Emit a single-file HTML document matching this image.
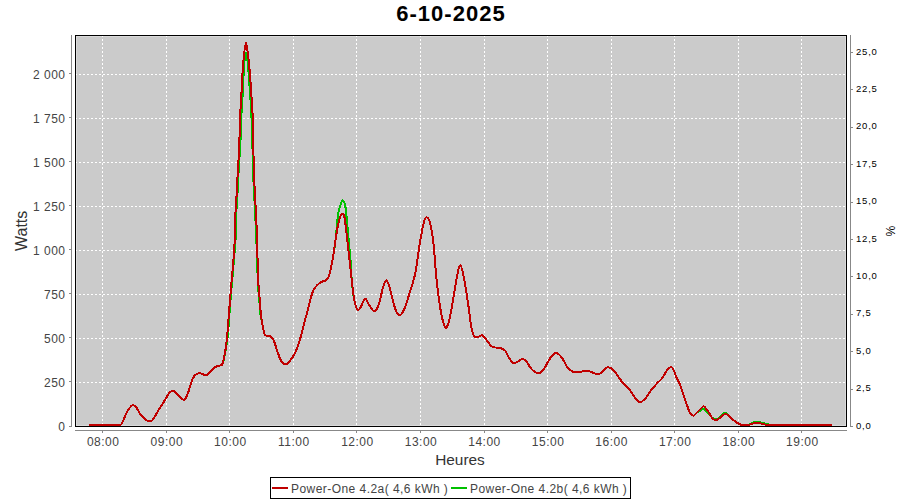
<!DOCTYPE html>
<html><head><meta charset="utf-8">
<style>
html,body{margin:0;padding:0;background:#fff;}
body{width:900px;height:500px;position:relative;overflow:hidden;font-family:"Liberation Sans",sans-serif;}
svg{position:absolute;left:0;top:0;}
.t{position:absolute;white-space:nowrap;}
#title{position:absolute;left:0;width:900px;top:1px;text-align:center;font-weight:bold;font-size:22px;line-height:25px;color:#000;letter-spacing:1.05px;text-indent:2px;}
.yl{position:absolute;right:834.5px;font-size:12px;line-height:15px;color:#444;white-space:nowrap;letter-spacing:0.5px;}
.xl{position:absolute;top:435px;width:60px;text-align:center;font-size:12px;line-height:15px;color:#444;letter-spacing:0.5px;}
.pl{position:absolute;left:856px;font-size:9.5px;line-height:13px;color:#000;white-space:nowrap;letter-spacing:0.8px;}
#xt{position:absolute;left:0;width:920px;top:451px;text-align:center;font-size:15.4px;line-height:18px;color:#333;}
#wt{position:absolute;left:1.5px;top:222px;width:40px;text-align:center;font-size:16px;line-height:18px;color:#333;transform:rotate(-90deg);}
#pt{position:absolute;left:870px;top:224px;width:40px;text-align:center;font-size:12px;line-height:14px;color:#000;transform:rotate(90deg);}
#legend{position:absolute;left:270px;top:477px;width:359px;height:20px;border:1px solid #000;}
.lg{position:absolute;top:2px;font-size:12px;line-height:19px;color:#444;white-space:nowrap;letter-spacing:0.45px;}
.ll{position:absolute;top:9px;width:16px;height:2px;}
</style></head><body>
<svg width="900" height="500" viewBox="0 0 900 500">
<rect x="75" y="35" width="772" height="392" fill="#cbcbcb"/>
<rect x="76.5" y="36.5" width="769" height="389" fill="none" stroke="#dadada" stroke-width="1"/>
<g stroke="#fff" stroke-width="1" stroke-dasharray="2 2" shape-rendering="crispEdges">
<line x1="102.5" y1="35" x2="102.5" y2="426" />
<line x1="166.5" y1="35" x2="166.5" y2="426" />
<line x1="229.5" y1="35" x2="229.5" y2="426" />
<line x1="293.5" y1="35" x2="293.5" y2="426" />
<line x1="356.5" y1="35" x2="356.5" y2="426" />
<line x1="420.5" y1="35" x2="420.5" y2="426" />
<line x1="484.5" y1="35" x2="484.5" y2="426" />
<line x1="547.5" y1="35" x2="547.5" y2="426" />
<line x1="611.5" y1="35" x2="611.5" y2="426" />
<line x1="674.5" y1="35" x2="674.5" y2="426" />
<line x1="738.5" y1="35" x2="738.5" y2="426" />
<line x1="801.5" y1="35" x2="801.5" y2="426" />
<line x1="75" y1="382.5" x2="846" y2="382.5" />
<line x1="75" y1="338.5" x2="846" y2="338.5" />
<line x1="75" y1="294.5" x2="846" y2="294.5" />
<line x1="75" y1="250.5" x2="846" y2="250.5" />
<line x1="75" y1="206.5" x2="846" y2="206.5" />
<line x1="75" y1="162.5" x2="846" y2="162.5" />
<line x1="75" y1="118.5" x2="846" y2="118.5" />
<line x1="75" y1="74.5" x2="846" y2="74.5" />
</g>
<path d="M89.00 425.20 C91.27 425.15 99.00 425.00 102.60 424.90 C106.20 424.80 107.80 424.55 110.60 424.60 C113.40 424.65 117.53 425.37 119.40 425.20 C121.27 425.03 120.87 425.07 121.80 423.60 C122.73 422.13 123.93 418.67 125.00 416.40 C126.07 414.13 126.95 411.87 128.20 410.00 C129.45 408.13 131.17 405.65 132.50 405.20 C133.83 404.75 134.92 405.83 136.20 407.30 C137.48 408.77 138.47 411.82 140.20 414.00 C141.93 416.18 144.60 419.33 146.60 420.40 C148.60 421.47 150.20 422.13 152.20 420.40 C154.20 418.67 156.60 413.20 158.60 410.00 C160.60 406.80 162.32 404.15 164.20 401.20 C166.08 398.25 168.22 393.97 169.90 392.30 C171.58 390.63 172.28 390.10 174.30 391.20 C176.32 392.30 180.17 397.62 182.00 398.90 C183.83 400.18 184.20 400.18 185.30 398.90 C186.40 397.62 187.32 394.68 188.60 391.20 C189.88 387.72 191.35 381.00 193.00 378.00 C194.65 375.00 196.67 373.75 198.50 373.20 C200.33 372.65 202.53 374.45 204.00 374.70 C205.47 374.95 205.83 375.62 207.30 374.70 C208.77 373.78 211.15 370.67 212.80 369.20 C214.45 367.73 215.72 366.60 217.20 365.90 C218.68 365.20 220.63 365.98 221.70 365.00 C222.77 364.02 222.65 364.33 223.60 360.00 C224.55 355.67 226.42 346.83 227.40 339.00 C228.38 331.17 228.80 321.67 229.50 313.00 C230.20 304.33 230.87 295.67 231.60 287.00 C232.33 278.33 233.20 269.67 233.90 261.00 C234.60 252.33 235.42 242.67 235.80 235.00 C236.18 227.33 235.93 221.67 236.20 215.00 C236.47 208.33 237.03 201.67 237.40 195.00 C237.77 188.33 238.03 181.67 238.40 175.00 C238.77 168.33 239.20 161.67 239.60 155.00 C240.00 148.33 240.50 141.67 240.80 135.00 C241.10 128.33 241.10 121.67 241.40 115.00 C241.70 108.33 242.13 103.50 242.60 95.00 C243.07 86.50 243.63 71.07 244.20 64.00 C244.77 56.93 245.40 52.60 246.00 52.60 C246.60 52.60 247.10 56.93 247.80 64.00 C248.50 71.07 249.60 86.50 250.20 95.00 C250.80 103.50 251.10 108.33 251.40 115.00 C251.70 121.67 251.78 128.33 252.00 135.00 C252.22 141.67 252.50 148.33 252.70 155.00 C252.90 161.67 252.95 168.33 253.20 175.00 C253.45 181.67 253.87 188.33 254.20 195.00 C254.53 201.67 254.87 208.33 255.20 215.00 C255.53 221.67 255.88 227.33 256.20 235.00 C256.52 242.67 256.78 252.33 257.10 261.00 C257.42 269.67 257.73 280.50 258.10 287.00 C258.47 293.50 258.92 295.50 259.30 300.00 C259.68 304.50 259.85 309.80 260.40 314.00 C260.95 318.20 261.88 321.82 262.60 325.20 C263.32 328.58 263.88 332.48 264.70 334.30 C265.52 336.12 266.45 335.70 267.50 336.10 C268.55 336.50 269.95 335.95 271.00 336.70 C272.05 337.45 272.87 338.55 273.80 340.60 C274.73 342.65 275.55 345.97 276.60 349.00 C277.65 352.03 278.93 356.35 280.10 358.80 C281.27 361.25 282.43 362.88 283.60 363.70 C284.77 364.52 285.70 364.63 287.10 363.70 C288.50 362.77 290.48 360.32 292.00 358.10 C293.52 355.88 294.80 353.78 296.20 350.40 C297.60 347.02 299.03 342.50 300.40 337.80 C301.77 333.10 303.20 326.67 304.40 322.20 C305.60 317.73 306.67 314.47 307.60 311.00 C308.53 307.53 309.20 304.47 310.00 301.40 C310.80 298.33 311.47 295.00 312.40 292.60 C313.33 290.20 314.40 288.60 315.60 287.00 C316.80 285.40 318.40 283.93 319.60 283.00 C320.80 282.07 321.87 281.80 322.80 281.40 C323.73 281.00 324.27 281.27 325.20 280.60 C326.13 279.93 327.52 279.17 328.40 277.40 C329.28 275.63 329.73 273.32 330.50 270.00 C331.27 266.68 332.17 262.50 333.00 257.50 C333.83 252.50 334.67 247.08 335.50 240.00 C336.33 232.92 337.17 220.83 338.00 215.00 C338.83 209.17 339.67 207.42 340.50 205.00 C341.33 202.58 342.17 200.08 343.00 200.50 C343.83 200.92 344.67 202.17 345.50 207.50 C346.33 212.83 347.17 223.75 348.00 232.50 C348.83 241.25 349.88 252.08 350.50 260.00 C351.12 267.92 351.12 273.33 351.75 280.00 C352.38 286.67 353.29 295.08 354.25 300.00 C355.21 304.92 356.46 308.25 357.50 309.50 C358.54 310.75 359.25 309.29 360.50 307.50 C361.75 305.71 363.54 299.17 365.00 298.75 C366.46 298.33 367.67 302.88 369.25 305.00 C370.83 307.12 372.88 311.73 374.50 311.50 C376.12 311.27 377.55 307.72 379.00 303.60 C380.45 299.48 381.93 290.67 383.20 286.80 C384.47 282.93 385.43 279.93 386.60 280.40 C387.77 280.87 388.90 285.27 390.20 289.60 C391.50 293.93 392.90 302.10 394.40 306.40 C395.90 310.70 397.57 314.93 399.20 315.40 C400.83 315.87 402.43 313.03 404.20 309.20 C405.97 305.37 407.93 298.47 409.80 292.40 C411.67 286.33 413.77 280.73 415.40 272.80 C417.03 264.87 418.20 253.20 419.60 244.80 C421.00 236.40 422.63 226.97 423.80 222.40 C424.97 217.83 425.57 217.40 426.60 217.40 C427.63 217.40 428.83 217.83 430.00 222.40 C431.17 226.97 432.53 235.47 433.60 244.80 C434.67 254.13 435.25 267.63 436.40 278.40 C437.55 289.17 439.08 301.30 440.50 309.40 C441.92 317.50 443.55 324.80 444.90 327.00 C446.25 329.20 447.32 326.63 448.60 322.60 C449.88 318.57 451.20 310.50 452.60 302.80 C454.00 295.10 455.72 282.70 457.00 276.40 C458.28 270.10 459.20 265.00 460.30 265.00 C461.40 265.00 462.32 270.10 463.60 276.40 C464.88 282.70 466.72 294.37 468.00 302.80 C469.28 311.23 470.20 321.32 471.30 327.00 C472.40 332.68 473.32 335.32 474.60 336.90 C475.88 338.48 477.72 336.75 479.00 336.50 C480.28 336.25 481.02 334.78 482.30 335.40 C483.58 336.02 485.05 338.30 486.70 340.20 C488.35 342.10 490.00 345.52 492.20 346.80 C494.40 348.08 497.77 347.30 499.90 347.90 C502.03 348.50 503.55 348.88 505.00 350.40 C506.45 351.92 507.40 355.00 508.60 357.00 C509.80 359.00 511.00 361.47 512.20 362.40 C513.40 363.33 514.60 362.90 515.80 362.60 C517.00 362.30 518.20 361.23 519.40 360.60 C520.60 359.97 521.80 358.60 523.00 358.80 C524.20 359.00 525.20 360.10 526.60 361.80 C528.00 363.50 529.80 367.20 531.40 369.00 C533.00 370.80 534.70 372.00 536.20 372.60 C537.70 373.20 539.00 373.40 540.40 372.60 C541.80 371.80 543.10 370.00 544.60 367.80 C546.10 365.60 548.00 361.60 549.40 359.40 C550.80 357.20 551.90 355.67 553.00 354.60 C554.10 353.53 554.90 352.93 556.00 353.00 C557.10 353.07 558.50 354.03 559.60 355.00 C560.70 355.97 561.30 356.77 562.60 358.80 C563.90 360.83 565.90 365.20 567.40 367.20 C568.90 369.20 570.40 369.97 571.60 370.80 C572.80 371.63 573.10 372.00 574.60 372.20 C576.10 372.40 579.00 372.23 580.60 372.00 C582.20 371.77 583.00 371.03 584.20 370.80 C585.40 370.57 586.60 370.40 587.80 370.60 C589.00 370.80 590.00 371.47 591.40 372.00 C592.80 372.53 594.80 373.50 596.20 373.80 C597.60 374.10 598.50 374.48 599.80 373.80 C601.10 373.12 602.68 370.78 604.00 369.70 C605.32 368.62 606.50 367.52 607.70 367.30 C608.90 367.08 609.95 367.55 611.20 368.40 C612.45 369.25 613.87 370.80 615.20 372.40 C616.53 374.00 617.73 376.00 619.20 378.00 C620.67 380.00 622.40 382.67 624.00 384.40 C625.60 386.13 627.20 386.53 628.80 388.40 C630.40 390.27 632.00 393.38 633.60 395.60 C635.20 397.82 637.07 400.68 638.40 401.70 C639.73 402.72 640.27 402.45 641.60 401.70 C642.93 400.95 644.80 399.15 646.40 397.20 C648.00 395.25 649.33 392.40 651.20 390.00 C653.07 387.60 655.73 384.80 657.60 382.80 C659.47 380.80 660.80 380.13 662.40 378.00 C664.00 375.87 665.73 371.82 667.20 370.00 C668.67 368.18 670.13 367.10 671.20 367.10 C672.27 367.10 672.67 368.18 673.60 370.00 C674.53 371.82 675.73 375.60 676.80 378.00 C677.87 380.40 678.92 381.67 680.00 384.40 C681.08 387.13 682.18 391.07 683.30 394.40 C684.42 397.73 685.58 401.33 686.70 404.40 C687.82 407.47 688.90 410.90 690.00 412.80 C691.10 414.70 692.18 415.80 693.30 415.80 C694.42 415.80 695.48 413.68 696.70 412.80 C697.92 411.92 699.40 411.12 700.60 410.50 C701.80 409.88 702.70 408.77 703.90 409.10 C705.10 409.43 706.23 410.92 707.80 412.50 C709.37 414.08 711.63 417.58 713.30 418.60 C714.97 419.62 716.32 419.23 717.80 418.60 C719.28 417.97 720.90 415.77 722.20 414.80 C723.50 413.83 724.30 412.52 725.60 412.80 C726.90 413.08 729.27 415.77 730.00 416.50 C730.73 417.23 729.07 416.33 730.00 417.20 C730.93 418.07 733.75 420.45 735.60 421.70 C737.45 422.95 738.88 424.20 741.10 424.70 C743.32 425.20 747.05 425.02 748.90 424.70 C750.75 424.38 750.72 423.30 752.20 422.80 C753.68 422.30 755.95 421.63 757.80 421.70 C759.65 421.77 761.45 422.73 763.30 423.20 C765.15 423.67 766.12 424.15 768.90 424.50 C771.68 424.85 769.48 425.17 780.00 425.30 C790.52 425.43 823.33 425.30 832.00 425.30" fill="none" stroke="#00c000" stroke-width="2" stroke-linejoin="round" shape-rendering="crispEdges"/>
<path d="M89.00 425.20 C91.27 425.15 99.00 425.00 102.60 424.90 C106.20 424.80 107.80 424.55 110.60 424.60 C113.40 424.65 117.53 425.37 119.40 425.20 C121.27 425.03 120.87 425.07 121.80 423.60 C122.73 422.13 123.93 418.67 125.00 416.40 C126.07 414.13 126.95 411.87 128.20 410.00 C129.45 408.13 131.17 405.65 132.50 405.20 C133.83 404.75 134.92 405.83 136.20 407.30 C137.48 408.77 138.47 411.82 140.20 414.00 C141.93 416.18 144.60 419.33 146.60 420.40 C148.60 421.47 150.20 422.13 152.20 420.40 C154.20 418.67 156.60 413.20 158.60 410.00 C160.60 406.80 162.32 404.15 164.20 401.20 C166.08 398.25 168.22 393.97 169.90 392.30 C171.58 390.63 172.28 390.10 174.30 391.20 C176.32 392.30 180.17 397.62 182.00 398.90 C183.83 400.18 184.20 400.18 185.30 398.90 C186.40 397.62 187.32 394.68 188.60 391.20 C189.88 387.72 191.35 381.00 193.00 378.00 C194.65 375.00 196.67 373.75 198.50 373.20 C200.33 372.65 202.53 374.45 204.00 374.70 C205.47 374.95 205.83 375.62 207.30 374.70 C208.77 373.78 211.15 370.67 212.80 369.20 C214.45 367.73 215.72 366.60 217.20 365.90 C218.68 365.20 220.63 365.98 221.70 365.00 C222.77 364.02 223.03 362.17 223.60 360.00 C224.17 357.83 224.55 355.50 225.10 352.00 C225.65 348.50 226.25 345.50 226.90 339.00 C227.55 332.50 228.30 321.67 229.00 313.00 C229.70 304.33 230.37 295.67 231.10 287.00 C231.83 278.33 232.75 269.67 233.40 261.00 C234.05 252.33 234.67 242.67 235.00 235.00 C235.33 227.33 235.13 221.67 235.40 215.00 C235.67 208.33 236.23 201.67 236.60 195.00 C236.97 188.33 237.23 181.67 237.60 175.00 C237.97 168.33 238.47 161.67 238.80 155.00 C239.13 148.33 239.37 141.67 239.60 135.00 C239.83 128.33 239.90 121.67 240.20 115.00 C240.50 108.33 241.03 101.67 241.40 95.00 C241.77 88.33 241.97 81.67 242.40 75.00 C242.83 68.33 243.40 60.40 244.00 55.00 C244.60 49.60 245.33 42.60 246.00 42.60 C246.67 42.60 247.33 49.60 248.00 55.00 C248.67 60.40 249.43 68.33 250.00 75.00 C250.57 81.67 250.97 88.33 251.40 95.00 C251.83 101.67 252.30 108.33 252.60 115.00 C252.90 121.67 253.05 128.33 253.20 135.00 C253.35 141.67 253.37 148.33 253.50 155.00 C253.63 161.67 253.75 168.33 254.00 175.00 C254.25 181.67 254.67 188.33 255.00 195.00 C255.33 201.67 255.67 208.33 256.00 215.00 C256.33 221.67 256.73 227.33 257.00 235.00 C257.27 242.67 257.33 252.33 257.60 261.00 C257.87 269.67 258.23 280.50 258.60 287.00 C258.97 293.50 259.42 295.50 259.80 300.00 C260.18 304.50 260.43 309.80 260.90 314.00 C261.37 318.20 261.97 321.82 262.60 325.20 C263.23 328.58 263.88 332.48 264.70 334.30 C265.52 336.12 266.45 335.70 267.50 336.10 C268.55 336.50 269.95 335.95 271.00 336.70 C272.05 337.45 272.87 338.55 273.80 340.60 C274.73 342.65 275.55 345.97 276.60 349.00 C277.65 352.03 278.93 356.35 280.10 358.80 C281.27 361.25 282.43 362.88 283.60 363.70 C284.77 364.52 285.70 364.63 287.10 363.70 C288.50 362.77 290.48 360.32 292.00 358.10 C293.52 355.88 294.80 353.78 296.20 350.40 C297.60 347.02 299.03 342.50 300.40 337.80 C301.77 333.10 303.20 326.67 304.40 322.20 C305.60 317.73 306.67 314.47 307.60 311.00 C308.53 307.53 309.20 304.47 310.00 301.40 C310.80 298.33 311.47 295.00 312.40 292.60 C313.33 290.20 314.40 288.60 315.60 287.00 C316.80 285.40 318.40 283.93 319.60 283.00 C320.80 282.07 321.87 281.80 322.80 281.40 C323.73 281.00 324.27 281.27 325.20 280.60 C326.13 279.93 327.52 279.17 328.40 277.40 C329.28 275.63 329.73 273.32 330.50 270.00 C331.27 266.68 332.17 262.50 333.00 257.50 C333.83 252.50 334.67 245.42 335.50 240.00 C336.33 234.58 337.17 228.96 338.00 225.00 C338.83 221.04 339.75 218.12 340.50 216.25 C341.25 214.38 341.83 213.54 342.50 213.75 C343.17 213.96 343.79 213.96 344.50 217.50 C345.21 221.04 345.96 228.33 346.75 235.00 C347.54 241.67 348.42 250.00 349.25 257.50 C350.08 265.00 350.92 272.92 351.75 280.00 C352.58 287.08 353.29 295.08 354.25 300.00 C355.21 304.92 356.46 308.25 357.50 309.50 C358.54 310.75 359.25 309.29 360.50 307.50 C361.75 305.71 363.54 299.17 365.00 298.75 C366.46 298.33 367.67 302.88 369.25 305.00 C370.83 307.12 372.88 311.73 374.50 311.50 C376.12 311.27 377.55 307.72 379.00 303.60 C380.45 299.48 381.93 290.67 383.20 286.80 C384.47 282.93 385.43 279.93 386.60 280.40 C387.77 280.87 388.90 285.27 390.20 289.60 C391.50 293.93 392.90 302.10 394.40 306.40 C395.90 310.70 397.57 314.93 399.20 315.40 C400.83 315.87 402.43 313.03 404.20 309.20 C405.97 305.37 407.93 298.47 409.80 292.40 C411.67 286.33 413.77 280.73 415.40 272.80 C417.03 264.87 418.20 253.20 419.60 244.80 C421.00 236.40 422.63 226.97 423.80 222.40 C424.97 217.83 425.57 217.40 426.60 217.40 C427.63 217.40 428.83 217.83 430.00 222.40 C431.17 226.97 432.53 235.47 433.60 244.80 C434.67 254.13 435.25 267.63 436.40 278.40 C437.55 289.17 439.08 301.30 440.50 309.40 C441.92 317.50 443.55 324.80 444.90 327.00 C446.25 329.20 447.32 326.63 448.60 322.60 C449.88 318.57 451.20 310.50 452.60 302.80 C454.00 295.10 455.72 282.70 457.00 276.40 C458.28 270.10 459.20 265.00 460.30 265.00 C461.40 265.00 462.32 270.10 463.60 276.40 C464.88 282.70 466.72 294.37 468.00 302.80 C469.28 311.23 470.20 321.32 471.30 327.00 C472.40 332.68 473.32 335.32 474.60 336.90 C475.88 338.48 477.72 336.75 479.00 336.50 C480.28 336.25 481.02 334.78 482.30 335.40 C483.58 336.02 485.05 338.30 486.70 340.20 C488.35 342.10 490.00 345.52 492.20 346.80 C494.40 348.08 497.77 347.30 499.90 347.90 C502.03 348.50 503.55 348.88 505.00 350.40 C506.45 351.92 507.40 355.00 508.60 357.00 C509.80 359.00 511.00 361.47 512.20 362.40 C513.40 363.33 514.60 362.90 515.80 362.60 C517.00 362.30 518.20 361.23 519.40 360.60 C520.60 359.97 521.80 358.60 523.00 358.80 C524.20 359.00 525.20 360.10 526.60 361.80 C528.00 363.50 529.80 367.20 531.40 369.00 C533.00 370.80 534.70 372.00 536.20 372.60 C537.70 373.20 539.00 373.40 540.40 372.60 C541.80 371.80 543.10 370.00 544.60 367.80 C546.10 365.60 548.00 361.60 549.40 359.40 C550.80 357.20 551.90 355.67 553.00 354.60 C554.10 353.53 554.90 352.93 556.00 353.00 C557.10 353.07 558.50 354.03 559.60 355.00 C560.70 355.97 561.30 356.77 562.60 358.80 C563.90 360.83 565.90 365.20 567.40 367.20 C568.90 369.20 570.40 369.97 571.60 370.80 C572.80 371.63 573.10 372.00 574.60 372.20 C576.10 372.40 579.00 372.23 580.60 372.00 C582.20 371.77 583.00 371.03 584.20 370.80 C585.40 370.57 586.60 370.40 587.80 370.60 C589.00 370.80 590.00 371.47 591.40 372.00 C592.80 372.53 594.80 373.50 596.20 373.80 C597.60 374.10 598.50 374.48 599.80 373.80 C601.10 373.12 602.68 370.78 604.00 369.70 C605.32 368.62 606.50 367.52 607.70 367.30 C608.90 367.08 609.95 367.55 611.20 368.40 C612.45 369.25 613.87 370.80 615.20 372.40 C616.53 374.00 617.73 376.00 619.20 378.00 C620.67 380.00 622.40 382.67 624.00 384.40 C625.60 386.13 627.20 386.53 628.80 388.40 C630.40 390.27 632.00 393.38 633.60 395.60 C635.20 397.82 637.07 400.68 638.40 401.70 C639.73 402.72 640.27 402.45 641.60 401.70 C642.93 400.95 644.80 399.15 646.40 397.20 C648.00 395.25 649.33 392.40 651.20 390.00 C653.07 387.60 655.73 384.80 657.60 382.80 C659.47 380.80 660.80 380.13 662.40 378.00 C664.00 375.87 665.73 371.82 667.20 370.00 C668.67 368.18 670.13 367.10 671.20 367.10 C672.27 367.10 672.67 368.18 673.60 370.00 C674.53 371.82 675.73 375.60 676.80 378.00 C677.87 380.40 678.92 381.67 680.00 384.40 C681.08 387.13 682.18 391.07 683.30 394.40 C684.42 397.73 685.58 401.33 686.70 404.40 C687.82 407.47 688.90 410.90 690.00 412.80 C691.10 414.70 692.18 415.80 693.30 415.80 C694.42 415.80 695.48 413.95 696.70 412.80 C697.92 411.65 699.40 409.97 700.60 408.90 C701.80 407.83 702.70 406.03 703.90 406.40 C705.10 406.77 706.23 408.98 707.80 411.10 C709.37 413.22 711.63 417.72 713.30 419.10 C714.97 420.48 716.32 419.98 717.80 419.40 C719.28 418.82 720.82 416.52 722.20 415.60 C723.58 414.68 724.80 413.63 726.10 413.90 C727.40 414.17 728.42 415.90 730.00 417.20 C731.58 418.50 733.75 420.45 735.60 421.70 C737.45 422.95 738.88 424.20 741.10 424.70 C743.32 425.20 747.05 424.87 748.90 424.70 C750.75 424.53 750.72 424.02 752.20 423.70 C753.68 423.38 755.95 422.72 757.80 422.80 C759.65 422.88 761.45 423.83 763.30 424.20 C765.15 424.57 766.12 424.82 768.90 425.00 C771.68 425.18 769.48 425.25 780.00 425.30 C790.52 425.35 823.33 425.30 832.00 425.30" fill="none" stroke="#c00000" stroke-width="2" stroke-linejoin="round" shape-rendering="crispEdges"/>
<rect x="75.5" y="35.5" width="771" height="391" fill="none" stroke="#000" stroke-width="1" shape-rendering="crispEdges"/>
<g stroke="#888" stroke-width="1" shape-rendering="crispEdges">
<line x1="71.5" y1="35" x2="71.5" y2="427"/>
<line x1="75" y1="430.5" x2="847" y2="430.5"/>
<line x1="850.5" y1="35" x2="850.5" y2="427"/>
<line x1="69" y1="426.5" x2="71" y2="426.5" />
<line x1="69" y1="381.5" x2="71" y2="381.5" />
<line x1="69" y1="337.5" x2="71" y2="337.5" />
<line x1="69" y1="293.5" x2="71" y2="293.5" />
<line x1="69" y1="249.5" x2="71" y2="249.5" />
<line x1="69" y1="205.5" x2="71" y2="205.5" />
<line x1="69" y1="161.5" x2="71" y2="161.5" />
<line x1="69" y1="117.5" x2="71" y2="117.5" />
<line x1="69" y1="73.5" x2="71" y2="73.5" />
<line x1="102.5" y1="430" x2="102.5" y2="433" />
<line x1="166.5" y1="430" x2="166.5" y2="433" />
<line x1="229.5" y1="430" x2="229.5" y2="433" />
<line x1="293.5" y1="430" x2="293.5" y2="433" />
<line x1="356.5" y1="430" x2="356.5" y2="433" />
<line x1="420.5" y1="430" x2="420.5" y2="433" />
<line x1="484.5" y1="430" x2="484.5" y2="433" />
<line x1="547.5" y1="430" x2="547.5" y2="433" />
<line x1="611.5" y1="430" x2="611.5" y2="433" />
<line x1="674.5" y1="430" x2="674.5" y2="433" />
<line x1="738.5" y1="430" x2="738.5" y2="433" />
<line x1="801.5" y1="430" x2="801.5" y2="433" />
<line x1="850" y1="426.5" x2="853" y2="426.5" />
<line x1="850" y1="389.5" x2="853" y2="389.5" />
<line x1="850" y1="351.5" x2="853" y2="351.5" />
<line x1="850" y1="314.5" x2="853" y2="314.5" />
<line x1="850" y1="276.5" x2="853" y2="276.5" />
<line x1="850" y1="239.5" x2="853" y2="239.5" />
<line x1="850" y1="202.5" x2="853" y2="202.5" />
<line x1="850" y1="164.5" x2="853" y2="164.5" />
<line x1="850" y1="127.5" x2="853" y2="127.5" />
<line x1="850" y1="89.5" x2="853" y2="89.5" />
<line x1="850" y1="52.5" x2="853" y2="52.5" />
</g>
</svg>
<div id="title">6-10-2025</div>
<div class="yl" style="top:419.5px">0</div>
<div class="yl" style="top:375.5px">250</div>
<div class="yl" style="top:331.5px">500</div>
<div class="yl" style="top:287.5px">750</div>
<div class="yl" style="top:243.5px">1 000</div>
<div class="yl" style="top:199.5px">1 250</div>
<div class="yl" style="top:155.5px">1 500</div>
<div class="yl" style="top:111.5px">1 750</div>
<div class="yl" style="top:67.5px">2 000</div>
<div class="xl" style="left:73.2px">08:00</div>
<div class="xl" style="left:136.8px">09:00</div>
<div class="xl" style="left:200.3px">10:00</div>
<div class="xl" style="left:263.9px">11:00</div>
<div class="xl" style="left:327.4px">12:00</div>
<div class="xl" style="left:391.0px">13:00</div>
<div class="xl" style="left:454.5px">14:00</div>
<div class="xl" style="left:518.1px">15:00</div>
<div class="xl" style="left:581.6px">16:00</div>
<div class="xl" style="left:645.2px">17:00</div>
<div class="xl" style="left:708.8px">18:00</div>
<div class="xl" style="left:772.3px">19:00</div>
<div class="pl" style="top:418.5px">0,0</div>
<div class="pl" style="top:381.1px">2,5</div>
<div class="pl" style="top:343.7px">5,0</div>
<div class="pl" style="top:306.3px">7,5</div>
<div class="pl" style="top:268.9px">10,0</div>
<div class="pl" style="top:231.5px">12,5</div>
<div class="pl" style="top:194.1px">15,0</div>
<div class="pl" style="top:156.7px">17,5</div>
<div class="pl" style="top:119.3px">20,0</div>
<div class="pl" style="top:81.9px">22,5</div>
<div class="pl" style="top:44.5px">25,0</div>
<div id="xt">Heures</div>
<div id="wt">Watts</div>
<div id="pt">%</div>
<div id="legend">
<div class="ll" style="left:1px;background:#c00000"></div>
<div class="lg" style="left:20px">Power-One 4.2a( 4,6 kWh )</div>
<div class="ll" style="left:180px;background:#00c000"></div>
<div class="lg" style="left:199px">Power-One 4.2b( 4,6 kWh )</div>
</div>
</body></html>
